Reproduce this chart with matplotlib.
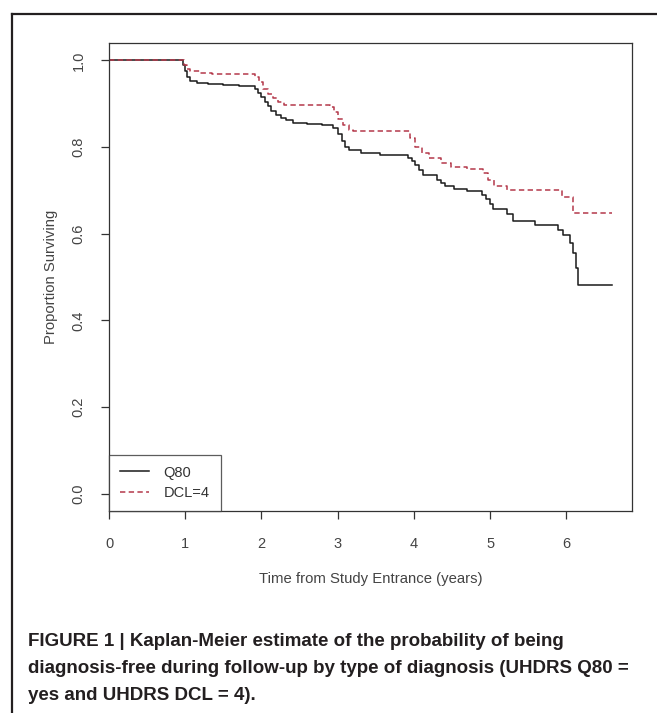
import matplotlib
matplotlib.use("Agg")
import matplotlib.pyplot as plt
from matplotlib.lines import Line2D
from matplotlib import font_manager as fm

# ---------------- data ----------------
q80_time = [0.0, 0.97, 1.00, 1.02, 1.06, 1.15, 1.30, 1.50, 1.70, 1.92, 1.95, 2.00,
            2.04, 2.09, 2.13, 2.19, 2.25, 2.32, 2.42, 2.60, 2.80, 2.94, 3.00, 3.05,
            3.10, 3.15, 3.30, 3.56, 3.92, 3.97, 4.02, 4.06, 4.12, 4.30, 4.36, 4.41,
            4.52, 4.70, 4.89, 4.94, 5.00, 5.04, 5.22, 5.30, 5.59, 5.89, 5.95, 6.05,
            6.09, 6.12, 6.15, 6.60]
q80_surv = [1.000, 0.990, 0.975, 0.962, 0.952, 0.948, 0.945, 0.942, 0.940, 0.935, 0.925, 0.915,
            0.905, 0.894, 0.883, 0.875, 0.868, 0.862, 0.855, 0.853, 0.850, 0.845, 0.830, 0.815,
            0.800, 0.792, 0.786, 0.781, 0.775, 0.768, 0.759, 0.748, 0.735, 0.725, 0.718, 0.710,
            0.703, 0.698, 0.690, 0.680, 0.668, 0.657, 0.645, 0.630, 0.620, 0.608, 0.597, 0.578,
            0.555, 0.521, 0.481, 0.481]

dcl_time = [0.0, 0.98, 1.02, 1.06, 1.20, 1.35, 1.92, 1.97, 2.02, 2.08, 2.15, 2.22,
            2.30, 2.90, 2.95, 3.00, 3.07, 3.15, 3.20, 3.95, 4.02, 4.10, 4.20, 4.35,
            4.48, 4.70, 4.91, 4.97, 5.05, 5.22, 5.94, 6.09, 6.60]
dcl_surv = [1.000, 0.990, 0.980, 0.975, 0.971, 0.968, 0.962, 0.950, 0.935, 0.922, 0.912, 0.903,
            0.898, 0.893, 0.880, 0.865, 0.850, 0.840, 0.836, 0.820, 0.800, 0.787, 0.775, 0.762,
            0.755, 0.750, 0.740, 0.725, 0.710, 0.700, 0.685, 0.648, 0.648]

x_ticks = [0, 1, 2, 3, 4, 5, 6]
y_ticks = [0.0, 0.2, 0.4, 0.6, 0.8, 1.0]
y_ticklabels = ["0.0", "0.2", "0.4", "0.6", "0.8", "1.0"]
series_labels = ["Q80", "DCL=4"]

x_label = "Time from Study Entrance (years)"
y_label = "Proportion Surviving"
caption_lines = [
    "FIGURE 1 | Kaplan-Meier estimate of the probability of being",
    "diagnosis-free during follow-up by type of diagnosis (UHDRS Q80 =",
    "yes and UHDRS DCL = 4).",
]

# ---------------- styling ----------------
W, H = 657, 713
DPI = 100
plt.rcParams['font.family'] = ['Liberation Sans', 'DejaVu Sans']

available = {f.name for f in fm.fontManager.ttflist}
cap_family = ['Liberation Sans Narrow', 'Liberation Sans', 'DejaVu Sans'] \
    if 'Liberation Sans Narrow' in available else ['Liberation Sans', 'DejaVu Sans']

fig = plt.figure(figsize=(W / DPI, H / DPI), dpi=DPI)
fig.patch.set_facecolor('white')

# axes box in pixel coordinates
ax_l, ax_r, ax_t, ax_b = 109, 632, 43, 511
ax = fig.add_axes([ax_l / W, 1 - ax_b / H, (ax_r - ax_l) / W, (ax_b - ax_t) / H])

black = '#1a1a1a'
red = '#b4384a'
ax.step(q80_time, q80_surv, where='post', color=black, lw=1.1, label=series_labels[0])
ax.step(dcl_time, dcl_surv, where='post', color=red, lw=1.1, ls=(0, (3.5, 2.2)),
        label=series_labels[1])

ax.set_xlim(0, 6.86)
ax.set_ylim(-0.04, 1.04)
ax.set_xticks(x_ticks)
ax.set_yticks(y_ticks)
ax.set_yticklabels(y_ticklabels, rotation=90, va='center')
ax.tick_params(axis='both', direction='out', length=6, width=0.9, colors='#333333',
               labelsize=10.5, labelcolor='#444444')
ax.tick_params(axis='x', pad=13)
ax.tick_params(axis='y', pad=11)
for sp in ax.spines.values():
    sp.set_color('#333333')
    sp.set_linewidth(0.9)
ax.set_xlabel(x_label, fontsize=10.7, color='#444444', labelpad=15)
ax.set_ylabel(y_label, fontsize=10.7, color='#444444', labelpad=10)

leg = ax.legend(loc='lower left', frameon=True, fancybox=False, fontsize=10.5,
                borderaxespad=0, handlelength=2.0, handletextpad=1.0,
                borderpad=0.75, labelspacing=0.45, labelcolor='#333333')
leg.get_frame().set_edgecolor('#333333')
leg.get_frame().set_linewidth(0.9)

# outer frame lines (left and top) of the figure panel
fig.add_artist(Line2D([12 / W, 12 / W], [0, 1 - 14 / H], transform=fig.transFigure,
                      color='#231f20', lw=1.6))
fig.add_artist(Line2D([12 / W, 1], [1 - 14 / H, 1 - 14 / H], transform=fig.transFigure,
                      color='#231f20', lw=1.6))

# caption
for i, line in enumerate(caption_lines):
    fig.text(28 / W, 1 - (641 + 27.5 * i) / H, line, fontsize=13.5, fontweight='bold',
             family=cap_family, color='#231f20', va='center', ha='left')

fig.savefig('out.png', dpi=DPI)
